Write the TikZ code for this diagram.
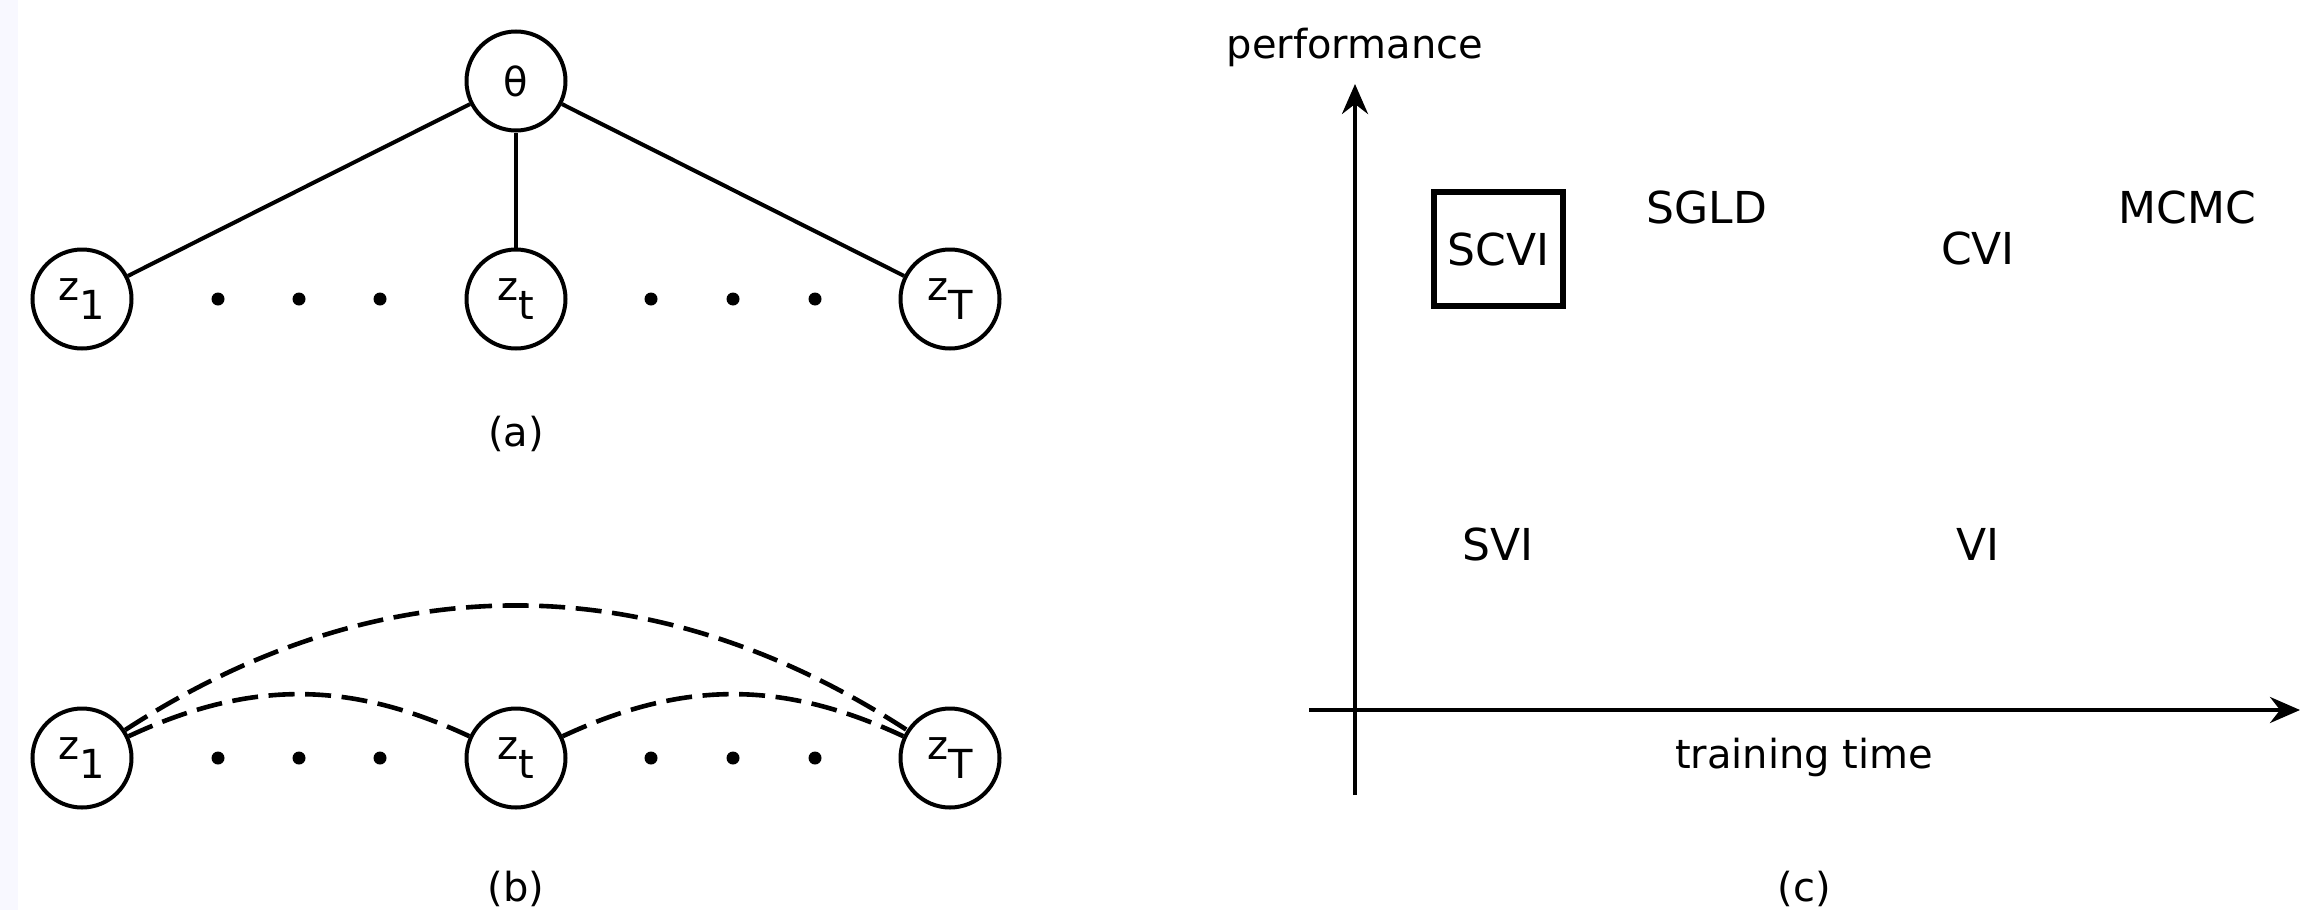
\documentclass[tikz,border=0pt]{standalone}
\usepackage{fontspec}
\setmainfont{DejaVu Sans}
\usetikzlibrary{arrows.meta}
\definecolor{stripcol}{RGB}{248,248,255}
\newcommand{\zsub}[1]{z\raisebox{-0.47em}{#1}}
\begin{document}
\begin{tikzpicture}[x=0.5pt,y=-0.5pt,
  var/.style={draw,circle,line width=2pt,minimum size=49.5pt,inner sep=0pt,font=\fontsize{20}{24}\selectfont},
  dotnode/.style={circle,fill,inner sep=0pt,minimum size=6.5pt},
  edge/.style={line width=2pt},
  dashedge/.style={line width=2.3pt,dash pattern=on 13pt off 5.3pt},
  small/.style={font=\fontsize{20}{24}\selectfont,inner sep=0pt},
  big/.style={font=\fontsize{22}{26}\selectfont,inner sep=0pt},
  axis/.style={line width=2pt,-{Stealth[length=15pt,width=13pt,inset=5pt]}}]
\useasboundingbox (0,0) rectangle (2301,910);
\fill[stripcol] (0,0) rectangle (18,910);
% (a)
\node[var] (th) at (516,81) {θ};
\node[var] (a1) at (82,299) {\zsub{1}};
\node[var] (at) at (516,299) {\zsub{t}};
\node[var] (aT) at (950,299) {\zsub{T}};
\foreach \x [count=\i] in {218,299,380,651,733,815} {
  \node[dotnode] (ad\i) at (\x,299) {};
}
\draw[edge] (th) -- (a1);
\draw[edge] (th) -- (at);
\draw[edge] (th) -- (aT);
\node[small] (la) at (516,434) {(a)};
% (b)
\node[var] (b1) at (82,758) {\zsub{1}};
\node[var] (bt) at (516,758) {\zsub{t}};
\node[var] (bT) at (950,758) {\zsub{T}};
\foreach \x [count=\i] in {218,299,380,651,733,815} {
  \node[dotnode] (bd\i) at (\x,758) {};
}
\draw[dashedge] (b1) to[out=25,in=155] (bt);
\draw[dashedge] (bt) to[out=25,in=155] (bT);
\draw[dashedge] (b1) to[out=33,in=147] (bT);
\node[small] (lb) at (516,889) {(b)};
% (c)
\coordinate (ybot) at (1355,795);
\coordinate (ytop) at (1355,84);
\coordinate (xleft) at (1309,710);
\coordinate (xright) at (2300,710);
\draw[axis] (ybot) -- (ytop);
\draw[axis] (xleft) -- (xright);
\node[small] (perf) at (1355,47) {performance};
\node[small] (tt) at (1804,757) {training time};
\node[big,draw,line width=3pt,minimum width=64.5pt,minimum height=57pt] (scvi) at (1498.5,249) {SCVI};
\node[big] (sgld) at (1707,207) {SGLD};
\node[big] (cvi) at (1978,248) {CVI};
\node[big] (mcmc) at (2187,207) {MCMC};
\node[big] (svi) at (1498,544) {SVI};
\node[big] (vi) at (1978,544) {VI};
\node[small] (lc) at (1804,889) {(c)};
\end{tikzpicture}
\end{document}
